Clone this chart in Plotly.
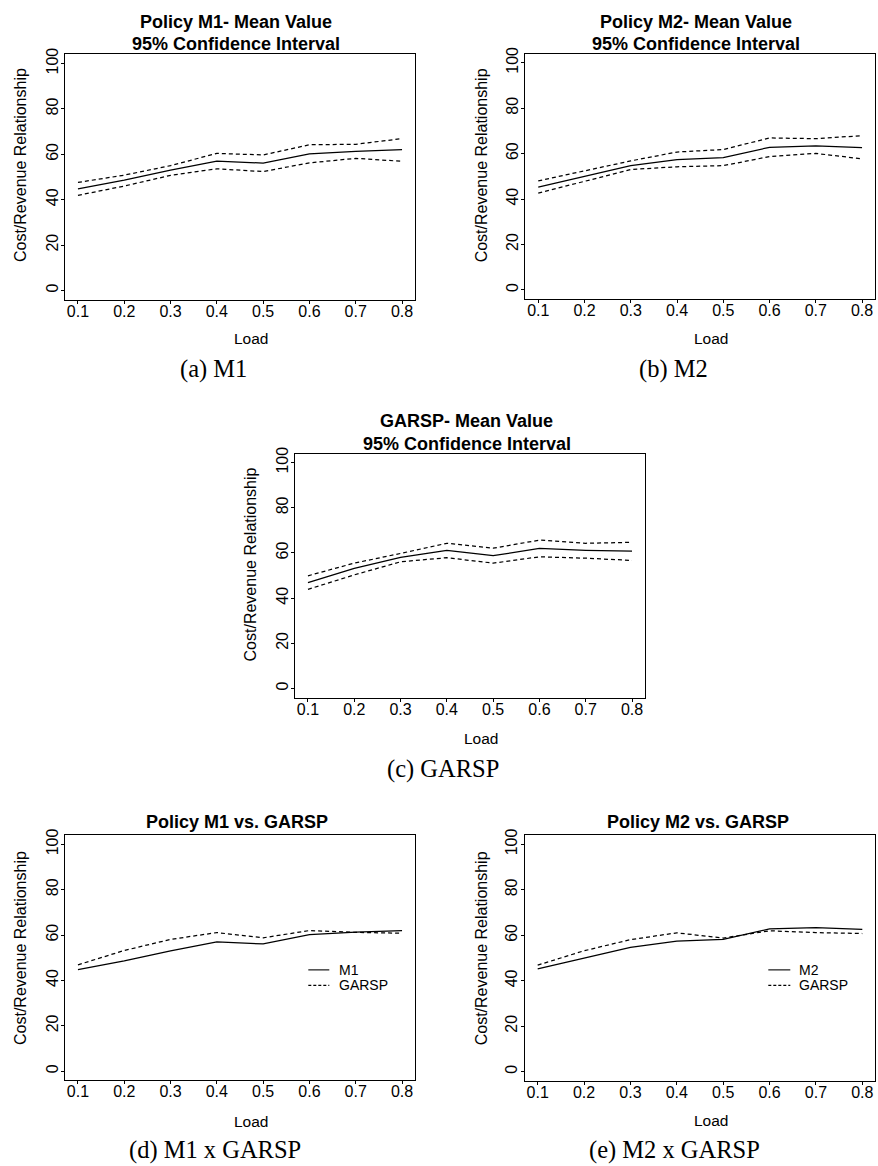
import plotly.graph_objects as go

W, H = 878, 1166

# ---------------- data ----------------
load = [0.1, 0.2, 0.3, 0.4, 0.5, 0.6, 0.7, 0.8]
x_tick_labels = ["0.1", "0.2", "0.3", "0.4", "0.5", "0.6", "0.7", "0.8"]
y_tick_vals = [0, 20, 40, 60, 80, 100]
y_tick_labels = ["0", "20", "40", "60", "80", "100"]

m1_mean = [44.8, 48.6, 53.0, 57.0, 56.1, 60.2, 61.3, 62.0]
m1_upper = [47.6, 50.8, 55.0, 60.4, 59.7, 64.2, 64.4, 66.9]
m1_lower = [41.9, 46.0, 50.7, 53.6, 52.4, 56.2, 58.2, 56.9]

m2_mean = [45.2, 50.0, 54.7, 57.4, 58.2, 62.8, 63.4, 62.6]
m2_upper = [48.0, 52.3, 56.8, 60.7, 61.8, 66.9, 66.6, 67.9]
m2_lower = [42.6, 47.7, 53.0, 54.2, 54.7, 58.7, 60.1, 57.7]

garsp_mean = [46.9, 53.2, 58.1, 61.1, 58.8, 62.0, 61.2, 60.8]
garsp_upper = [49.9, 55.5, 59.8, 64.3, 62.1, 65.7, 64.3, 64.7]
garsp_lower = [43.9, 50.3, 56.1, 57.9, 55.5, 58.3, 57.7, 56.7]

titles = [
    ["Policy M1- Mean Value", "95% Confidence Interval"],
    ["Policy M2- Mean Value", "95% Confidence Interval"],
    ["GARSP- Mean Value", "95% Confidence Interval"],
    ["Policy M1 vs. GARSP"],
    ["Policy M2 vs. GARSP"],
]
captions = ["(a) M1", "(b) M2", "(c) GARSP", "(d) M1 x GARSP", "(e) M2 x GARSP"]
x_title = "Load"
y_title = "Cost/Revenue Relationship"

# ---------------- layout geometry (pixels) ----------------
# plot boxes: left, right, top, bottom
boxes = [
    (65, 415, 47.7, 294.3),
    (525.3, 875, 47, 293.7),
    (295, 645, 449.3, 694.7),
    (65, 415, 833.3, 1079.7),
    (524.7, 875.3, 833.3, 1080.3),
]
title_x = [236.5, 696.3, 466.7, 237.2, 698.0]
title_y = [[15, 37.3], [15, 37.3], [416.7, 440], [820], [820]]
xlab_pos = [(250.5, 333.3), (710.5, 333.3), (480.8, 736), (250.5, 1121.7), (710.5, 1120.7)]
ylab_pos = [(20, 159), (481.3, 159), (250, 560.8), (20, 946.7), (481.3, 946.7)]
cap_pos = [(213.7, 364), (673.8, 364), (442.8, 767), (214.7, 1150), (674.5, 1150)]

SANS = "Liberation Sans, Arial, Helvetica, sans-serif"
SERIF = "Liberation Serif, Times New Roman, serif"


def xp(px):
    return px / W


def yp(py):
    return 1 - py / H


fig = go.Figure()

solid = dict(color="black", width=1.25)
dashed = dict(color="black", width=1.25, dash="4px,3px")

panels = [
    [(m1_mean, solid, "M1 mean"), (m1_upper, dashed, "M1 upper"), (m1_lower, dashed, "M1 lower")],
    [(m2_mean, solid, "M2 mean"), (m2_upper, dashed, "M2 upper"), (m2_lower, dashed, "M2 lower")],
    [(garsp_mean, solid, "GARSP mean"), (garsp_upper, dashed, "GARSP upper"), (garsp_lower, dashed, "GARSP lower")],
    [(m1_mean, solid, "M1"), (garsp_mean, dashed, "GARSP")],
    [(m2_mean, solid, "M2"), (garsp_mean, dashed, "GARSP")],
]

annotations = []
shapes = []

for i, (box, series) in enumerate(zip(boxes, panels)):
    n = "" if i == 0 else str(i + 1)
    for vals, ln, name in series:
        fig.add_trace(go.Scatter(x=load, y=vals, mode="lines", line=ln, name=name,
                                 showlegend=False, xaxis="x" + n, yaxis="y" + n,
                                 hoverinfo="x+y+name"))
    l, r, t, b = box
    fig.layout["xaxis" + n] = dict(
        domain=[xp(l), xp(r)], anchor="y" + n, range=[0.072, 0.828],
        tickvals=load, ticktext=x_tick_labels, ticks="outside", ticklen=3,
        tickcolor="black", tickwidth=1, showline=True, mirror=True,
        linecolor="black", linewidth=1, showgrid=False, zeroline=False,
        ticklabelstandoff=-6,
        tickfont=dict(family=SANS, size=16, color="black"), fixedrange=True,
    )
    fig.layout["yaxis" + n] = dict(
        domain=[yp(b), yp(t)], anchor="x" + n, range=[-4, 104],
        tickvals=y_tick_vals, ticktext=y_tick_labels, ticks="outside", ticklen=3,
        tickcolor="black", tickwidth=1, showline=True, mirror=True,
        linecolor="black", linewidth=1, showgrid=False, zeroline=False,
        ticklabelstandoff=-3,
        tickangle=-90, tickfont=dict(family=SANS, size=16, color="black"),
        fixedrange=True,
    )
    # titles
    for txt, ty in zip(titles[i], title_y[i]):
        annotations.append(dict(text="<b>%s</b>" % txt, x=xp(title_x[i]), y=yp(ty),
                                xref="paper", yref="paper", showarrow=False,
                                xanchor="center", yanchor="middle",
                                font=dict(family=SANS, size=18, color="black")))
    # axis titles
    annotations.append(dict(text=x_title, x=xp(xlab_pos[i][0]), y=yp(xlab_pos[i][1]),
                            xref="paper", yref="paper", showarrow=False,
                            xanchor="center", yanchor="middle",
                            font=dict(family=SANS, size=15.5, color="black")))
    annotations.append(dict(text=y_title, x=xp(ylab_pos[i][0]), y=yp(ylab_pos[i][1]),
                            xref="paper", yref="paper", showarrow=False, textangle=-90,
                            xanchor="center", yanchor="middle",
                            font=dict(family=SANS, size=16, color="black")))
    # captions
    annotations.append(dict(text=captions[i], x=xp(cap_pos[i][0]), y=yp(cap_pos[i][1]),
                            xref="paper", yref="paper", showarrow=False,
                            xanchor="center", yanchor="middle",
                            font=dict(family=SERIF, size=24.5, color="black")))

# legends for comparison panels (drawn manually, R style)
legend_defs = [
    (308.3, 329.3, 337.3, [("M1", 968.7, None), ("GARSP", 984.3, "4px,3px")]),
    (768.3, 790.3, 797.3, [("M2", 968.7, None), ("GARSP", 984.3, "4px,3px")]),
]
for x0, x1, tx, items in legend_defs:
    for label, yy, dash in items:
        ln = dict(color="black", width=1.1)
        if dash:
            ln["dash"] = "3px,2px"
        shapes.append(dict(type="line", xref="paper", yref="paper",
                           x0=xp(x0), x1=xp(x1), y0=yp(yy), y1=yp(yy), line=ln))
        annotations.append(dict(text=label, x=xp(tx), y=yp(yy), xref="paper", yref="paper",
                                showarrow=False, xanchor="left", yanchor="middle",
                                font=dict(family=SANS, size=14, color="black")))

fig.update_layout(
    width=W, height=H, margin=dict(l=0, r=0, t=0, b=0),
    paper_bgcolor="white", plot_bgcolor="white",
    annotations=annotations, shapes=shapes, showlegend=False,
)

fig.write_html("out.html")
